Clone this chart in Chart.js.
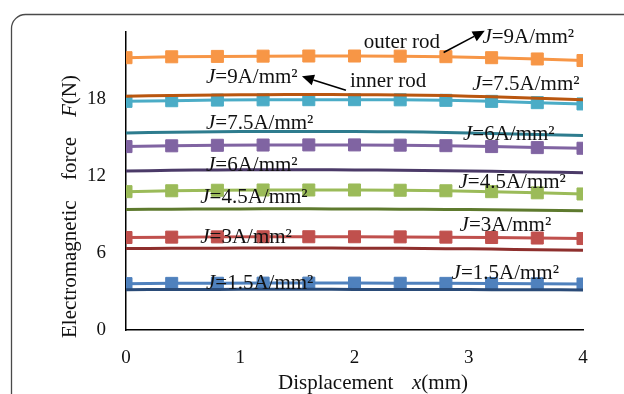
<!DOCTYPE html>
<html>
<head>
<meta charset="utf-8">
<script src="https://cdn.jsdelivr.net/npm/chart.js@4.4.1/dist/chart.umd.min.js"></script>
<style>
html,body{margin:0;padding:0;background:#fff;}
#wrap{width:624px;height:394px;}
</style>
</head>
<body>
<div id="wrap"><canvas id="forceChart" width="624" height="394"></canvas></div>
<script>
// displacement x (mm) where the force was computed
const displacement = [0, 0.4, 0.8, 1.2, 1.6, 2.0, 2.4, 2.8, 3.2, 3.6, 4.0];

// outer rod (square markers)
const outer9  = [21.20, 21.27, 21.30, 21.32, 21.33, 21.33, 21.32, 21.28, 21.20, 21.10, 20.98];
const outer75 = [17.80, 17.85, 17.90, 17.92, 17.93, 17.93, 17.92, 17.88, 17.80, 17.70, 17.60];
const outer6  = [14.28, 14.34, 14.38, 14.40, 14.41, 14.41, 14.39, 14.35, 14.28, 14.20, 14.15];
const outer45 = [10.77, 10.84, 10.88, 10.90, 10.90, 10.90, 10.88, 10.84, 10.77, 10.68, 10.59];
const outer3  = [7.20, 7.23, 7.25, 7.26, 7.26, 7.26, 7.25, 7.23, 7.20, 7.16, 7.12];
const outer15 = [3.61, 3.63, 3.64, 3.65, 3.65, 3.65, 3.64, 3.63, 3.62, 3.60, 3.58];

// inner rod (plain smooth lines)
const inner9  = [18.20, 18.26, 18.30, 18.32, 18.33, 18.32, 18.30, 18.25, 18.15, 18.05, 17.93];
const inner75 = [15.33, 15.40, 15.44, 15.46, 15.46, 15.45, 15.43, 15.38, 15.30, 15.22, 15.14];
const inner6  = [12.38, 12.43, 12.46, 12.47, 12.47, 12.46, 12.44, 12.40, 12.35, 12.30, 12.25];
const inner45 = [9.39, 9.41, 9.42, 9.43, 9.43, 9.42, 9.41, 9.39, 9.36, 9.32, 9.28];
const inner3  = [6.34, 6.36, 6.37, 6.38, 6.38, 6.37, 6.36, 6.33, 6.30, 6.25, 6.21];
const inner15 = [3.14, 3.15, 3.16, 3.17, 3.17, 3.16, 3.16, 3.15, 3.14, 3.13, 3.12];

const xTicks = [0, 1, 2, 3, 4];
const yTicks = [0, 6, 12, 18];

const serif = '"Liberation Serif", "Times New Roman", serif';

function pts(values){
  return values.map(function(v, i){ return {x: displacement[i], y: v}; });
}

function outerSet(values, color){
  return {
    data: pts(values),
    borderColor: color,
    backgroundColor: color,
    borderWidth: 3,
    pointStyle: "rect",
    pointRadius: 8.5,
    pointBorderWidth: 1,
    pointBorderColor: color,
    pointBackgroundColor: color,
    tension: 0,
    order: 2
  };
}

function innerSet(values, color){
  return {
    data: pts(values),
    borderColor: color,
    borderWidth: 3,
    pointRadius: 0,
    tension: 0.4,
    order: 1
  };
}

// white halo under the J=1.5 outer line
const halo = {
  data: pts(outer15),
  borderColor: "#ffffff",
  borderWidth: 7,
  pointRadius: 0,
  order: 3
};

// J labels and the two arrows, placed in data units
function jText(v){
  return [["J", true], ["=" + v + "A/mm\u00b2", false]];
}
const notes = [
  {x: 2.08, y: 22.4,  parts: [["outer rod", false]]},
  {x: 3.12, y: 22.8,  parts: jText("9")},
  {x: 0.70, y: 19.65, parts: jText("9")},
  {x: 1.96, y: 19.35, parts: [["inner rod", false]]},
  {x: 3.03, y: 19.1,  parts: jText("7.5")},
  {x: 0.70, y: 16.1,  parts: jText("7.5")},
  {x: 2.95, y: 15.2,  parts: jText("6")},
  {x: 0.70, y: 12.8,  parts: jText("6")},
  {x: 2.91, y: 11.5,  parts: jText("4.5")},
  {x: 0.65, y: 10.35, parts: jText("4.5")},
  {x: 2.92, y: 8.15,  parts: jText("3")},
  {x: 0.65, y: 7.2,   parts: jText("3")},
  {x: 2.85, y: 4.4,   parts: jText("1.5")},
  {x: 0.70, y: 3.6,   parts: jText("1.5")}
];
const arrows = [
  {x0: 2.78, y0: 21.6, x1: 3.14, y1: 23.3},
  {x0: 1.925, y0: 18.66, x1: 1.54, y1: 19.75}
];

function drawParts(ctx, parts, x, y){
  parts.forEach(function(p){
    ctx.font = (p[1] ? "italic " : "") + "21px " + serif;
    ctx.fillText(p[0], x, y);
    x += ctx.measureText(p[0]).width;
  });
}

// rounded frame behind the chart
const framePlugin = {
  id: "frame",
  beforeDraw: function(chart){
    const ctx = chart.ctx;
    ctx.save();
    ctx.fillStyle = "#fff";
    ctx.fillRect(0, 0, chart.width, chart.height);
    ctx.strokeStyle = "#4a4a4a";
    ctx.lineWidth = 1.3;
    ctx.beginPath();
    ctx.roundRect(11.5, 14.5, 700, 500, 14);
    ctx.stroke();
    ctx.restore();
  }
};

// labels, arrows and axis titles
const textPlugin = {
  id: "texts",
  afterDraw: function(chart){
    const ctx = chart.ctx;
    const xs = chart.scales.x;
    const ys = chart.scales.y;
    ctx.save();
    ctx.fillStyle = "#111";
    ctx.textBaseline = "middle";
    notes.forEach(function(n){
      drawParts(ctx, n.parts, xs.getPixelForValue(n.x), ys.getPixelForValue(n.y));
    });

    arrows.forEach(function(a){
      const x0 = xs.getPixelForValue(a.x0), y0 = ys.getPixelForValue(a.y0);
      const x1 = xs.getPixelForValue(a.x1), y1 = ys.getPixelForValue(a.y1);
      const ang = Math.atan2(y1 - y0, x1 - x0);
      const len = 12, half = 5.5;
      const bx = x1 - len * Math.cos(ang), by = y1 - len * Math.sin(ang);
      ctx.strokeStyle = "#000";
      ctx.lineWidth = 1.6;
      ctx.beginPath();
      ctx.moveTo(x0, y0);
      ctx.lineTo(bx, by);
      ctx.stroke();
      ctx.fillStyle = "#000";
      ctx.beginPath();
      ctx.moveTo(x1, y1);
      ctx.lineTo(bx + half * Math.sin(ang), by - half * Math.cos(ang));
      ctx.lineTo(bx - half * Math.sin(ang), by + half * Math.cos(ang));
      ctx.closePath();
      ctx.fill();
    });

    ctx.fillStyle = "#111";
    ctx.textBaseline = "alphabetic";
    // x title
    drawParts(ctx, [["Displacement", false]], 278, 389);
    drawParts(ctx, [["x", true], ["(mm)", false]], 412, 389);
    // y title, rotated
    ctx.translate(76, 338);
    ctx.rotate(-Math.PI / 2);
    drawParts(ctx, [["Electromagnetic", false]], 0, 0);
    drawParts(ctx, [["force", false]], 158, 0);
    drawParts(ctx, [["F", true], ["(N)", false]], 221, 0);
    ctx.restore();
  }
};

const ctx = document.getElementById("forceChart");
new Chart(ctx, {
  type: "line",
  data: {
    datasets: [
      outerSet(outer9, "#F79646"),
      outerSet(outer75, "#4BACC6"),
      outerSet(outer6, "#8064A2"),
      outerSet(outer45, "#9BBB59"),
      outerSet(outer3, "#C0504D"),
      halo,
      outerSet(outer15, "#4F81BD"),
      innerSet(inner9, "#B9560F"),
      innerSet(inner75, "#2E7C8E"),
      innerSet(inner6, "#4B3A68"),
      innerSet(inner45, "#5E7A2E"),
      innerSet(inner3, "#8E2F2D"),
      innerSet(inner15, "#2A4B78")
    ]
  },
  options: {
    responsive: false,
    animation: false,
    events: [],
    layout: {padding: {left: 0, right: 41, top: 32, bottom: 0}},
    plugins: {legend: {display: false}, tooltip: {enabled: false}},
    scales: {
      x: {
        type: "linear",
        min: 0,
        max: 4,
        afterFit: function(s){ s.height = 64; },
        afterBuildTicks: function(s){ s.ticks = xTicks.map(function(v){ return {value: v}; }); },
        grid: {display: false, drawTicks: false},
        border: {display: true, color: "#000", width: 1.5},
        ticks: {color: "#111", padding: 17, font: {family: serif, size: 19}}
      },
      y: {
        min: 0,
        max: 23.2,
        afterFit: function(s){ s.width = 126; },
        afterBuildTicks: function(s){ s.ticks = yTicks.map(function(v){ return {value: v}; }); },
        grid: {display: false, drawTicks: false},
        border: {display: true, color: "#000", width: 1.5},
        ticks: {color: "#111", padding: 20, font: {family: serif, size: 19}}
      }
    }
  },
  plugins: [framePlugin, textPlugin]
});
</script>
</body>
</html>
